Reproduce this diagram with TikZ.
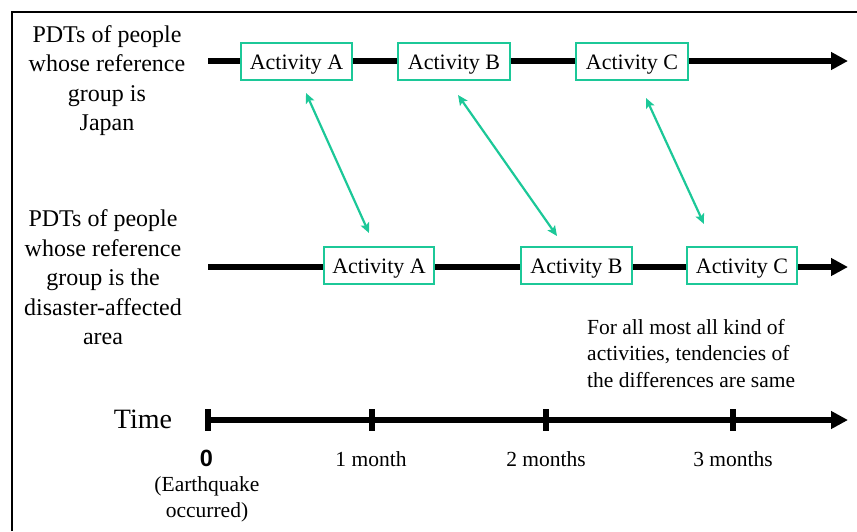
\documentclass[tikz,border=0pt]{standalone}
\usepackage{fontspec}
\setmainfont{Liberation Serif}
\newfontfamily\zerofont{Liberation Sans}
\usetikzlibrary{arrows.meta}
\definecolor{actgreen}{RGB}{28,200,152}
\tikzset{
  actbox/.style={draw=actgreen, line width=2.8pt, fill=white, inner sep=0pt,
    minimum height=37pt, text height=15pt, text depth=0pt,
    font=\fontsize{22}{24}\selectfont},
  timeline/.style={line width=5.5pt, -{Triangle[length=17pt,width=17pt]}},
  tickmark/.style={line width=5.5pt},
  garrow/.style={actgreen, line width=2.2pt, {Stealth[length=10pt,width=9pt,inset=2pt]}-{Stealth[length=10pt,width=9pt,inset=2pt]}},
  sidelabel/.style={align=center, inner sep=0pt, font=\fontsize{24}{29.5}\selectfont},
  ticklabel/.style={inner sep=0pt, font=\fontsize{21.5}{26}\selectfont},
}
\begin{document}
\begin{tikzpicture}[x=1pt,y=-1pt]
\useasboundingbox (0,0) rectangle (857,531);
% frame
\draw[line width=1.6pt] (12,531) -- (12,12) -- (857,12);

% side labels
\node[sidelabel] (lab1) at (107,80.5) {PDTs of people\\whose reference\\group is\\Japan};
\node[sidelabel] (lab2) at (103,277.5) {PDTs of people\\whose reference\\group is the\\disaster-affected\\area};

% timelines
\coordinate (t1s) at (208,61);
\coordinate (t1e) at (848,61);
\coordinate (t2s) at (208,267);
\coordinate (t2e) at (848,267);
\draw[timeline] (t1s) -- (t1e);
\draw[timeline] (t2s) -- (t2e);

% activity boxes
\node[actbox, minimum width=111pt] (a1) at (296.5,61.5) {Activity A};
\node[actbox, minimum width=112pt] (b1) at (454,61.5) {Activity B};
\node[actbox, minimum width=112pt] (c1) at (632,61.5) {Activity C};
\node[actbox, minimum width=110pt] (a2) at (379,265.5) {Activity A};
\node[actbox, minimum width=111pt] (b2) at (576.5,265.5) {Activity B};
\node[actbox, minimum width=110pt] (c2) at (742,265.5) {Activity C};

% green double arrows
\coordinate (ga1) at (306,93);
\coordinate (ga2) at (369,233);
\coordinate (gb1) at (458,95);
\coordinate (gb2) at (557,236);
\coordinate (gc1) at (646,98);
\coordinate (gc2) at (704,224);
\draw[garrow] (ga1) -- (ga2);
\draw[garrow] (gb1) -- (gb2);
\draw[garrow] (gc1) -- (gc2);

% note
\node[align=left, anchor=west, inner sep=0pt, font=\fontsize{21.5}{26.5}\selectfont] (note) at (587,353.5)
  {For all most all kind of\\activities, tendencies of\\the differences are same};

% time axis
\node[inner sep=0pt, font=\fontsize{28}{32}\selectfont] (time) at (143,419) {Time};
\coordinate (ts) at (208,420);
\coordinate (te) at (848,420);
\draw[timeline] (ts) -- (te);
\coordinate (k0a) at (208,409); \coordinate (k0b) at (208,431);
\coordinate (k1a) at (372,409); \coordinate (k1b) at (372,431);
\coordinate (k2a) at (546,409); \coordinate (k2b) at (546,431);
\coordinate (k3a) at (733,409); \coordinate (k3b) at (733,431);
\draw[tickmark] (k0a) -- (k0b);
\draw[tickmark] (k1a) -- (k1b);
\draw[tickmark] (k2a) -- (k2b);
\draw[tickmark] (k3a) -- (k3b);

\node[inner sep=0pt, font=\zerofont\bfseries\fontsize{23.5}{26}\selectfont] (zero) at (206.5,458.5) {0};
\node[ticklabel, align=center] (eq) at (207,499.5) {(Earthquake\\occurred)};
\node[ticklabel] (m1) at (371,459) {1 month};
\node[ticklabel] (m2) at (546,459) {2 months};
\node[ticklabel] (m3) at (733,459) {3 months};
\end{tikzpicture}
\end{document}
